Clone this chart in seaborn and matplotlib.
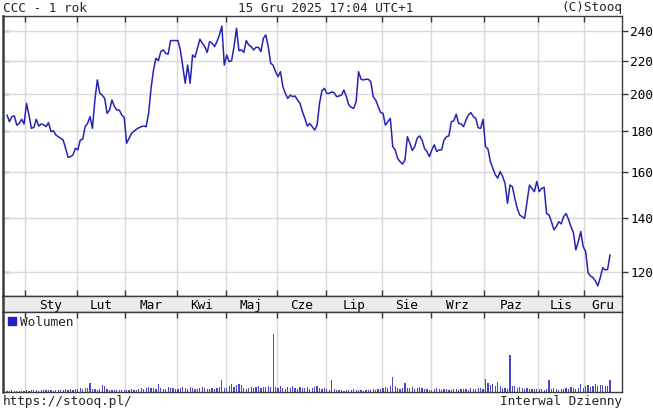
import numpy as np
import pandas as pd
import matplotlib
matplotlib.use("Agg")
import matplotlib.pyplot as plt
from matplotlib.lines import Line2D
from matplotlib.ticker import FixedLocator, NullLocator
import seaborn as sns

# Trading days shown per month (Dec 2024 ... Dec 2025)
days_per_month = [8, 21, 20, 21, 20, 21, 20, 23, 20, 22, 22, 19, 11]
month_labels = ["Sty", "Lut", "Mar", "Kwi", "Maj", "Cze", "Lip", "Sie", "Wrz", "Paz", "Lis", "Gru"]

# Daily close
close = [
    # Dec 2024
    188.5, 184.9, 187.6, 188.0, 183.1, 184.0, 186.2, 183.7,
    # Jan
    194.9, 188.5, 181.4, 181.9, 186.2, 182.6, 183.7, 183.3, 182.3, 184.4, 179.7,
    180.2, 178.0, 177.1, 176.3, 175.4, 171.3, 166.9, 167.2, 168.0, 171.3,
    # Feb
    170.5, 175.4, 175.8, 182.3, 184.0, 187.6, 181.4, 196.8, 208.5, 200.6,
    199.6, 197.7, 189.4, 191.2, 196.8, 193.1, 191.2, 191.2, 188.5, 187.2,
    # Mar
    173.8, 176.3, 178.8, 179.9, 180.9, 181.7, 182.3, 182.6, 182.3, 189.4, 203.5,
    214.5, 221.9, 220.4, 226.2, 227.3, 225.1, 224.6, 233.5, 233.5, 233.5,
    # Apr
    233.5, 227.3, 216.6, 206.5, 217.6, 206.5, 224.0, 222.5, 228.4, 234.4,
    231.7, 229.5, 225.7, 232.8, 231.7, 229.5, 232.8, 237.3, 243.5, 217.6,
    # May
    224.0, 219.7, 220.4, 229.5, 241.9, 226.8, 227.3, 225.7, 233.5, 230.6, 229.5,
    227.3, 229.0, 229.0, 226.2, 235.0, 237.3, 229.5, 218.7, 217.6, 213.5,
    # Jun
    210.5, 213.5, 204.5, 200.6, 197.7, 199.6, 198.7, 199.1, 196.8, 194.9,
    190.3, 186.7, 182.6, 184.0, 182.3, 180.5, 183.1, 194.9, 202.2, 203.5,
    # Jul
    200.6, 200.6, 201.4, 201.0, 198.7, 199.1, 199.6, 202.5, 198.7, 194.0, 192.7, 192.1,
    195.9, 213.5, 208.9, 208.5, 208.9, 208.9, 207.5, 198.7, 196.8, 193.4, 189.8,
    # Aug
    189.4, 183.1, 184.9, 186.7, 172.1, 170.5, 166.4, 164.8, 163.7, 165.6,
    177.1, 173.8, 170.2, 172.1, 176.3, 177.5, 175.4, 171.3, 169.7, 167.2,
    # Sep
    170.5, 173.0, 169.7, 170.5, 170.5, 175.4, 177.1, 177.5, 184.9, 185.4, 189.0,
    184.0, 183.7, 182.3, 185.8, 188.5, 189.8, 187.6, 186.7, 181.7, 181.4, 186.2,
    # Oct
    172.1, 170.9, 164.8, 161.7, 158.7, 157.2, 160.2, 158.0, 154.8, 146.2, 154.1,
    153.4, 148.3, 144.1, 141.4, 140.7, 140.0, 146.9, 154.1, 152.6, 151.2, 155.7,
    # Nov
    151.2, 152.6, 153.1, 142.0, 141.4, 138.7, 135.5, 136.7, 138.7, 137.8,
    140.7, 142.0, 139.6, 136.7, 134.4, 127.9, 131.0, 134.8, 129.1,
    # Dec
    127.3, 119.8, 118.6, 118.1, 117.0, 115.3, 118.1, 121.5, 120.7, 120.9, 126.1,
]

# Daily volume (relative units)
volume = [
    15, 10, 20, 12, 10, 8, 15, 10,
    20, 15, 25, 18, 20, 15, 22, 20, 18, 25, 20, 15, 22, 18, 20, 25, 30, 22, 28, 25, 35,
    35, 40, 30, 45, 40, 90, 35, 30, 25, 30, 70, 60, 35, 25, 20, 20, 18, 22, 20, 25,
    25, 20, 30, 22, 25, 30, 45, 35, 40, 50, 40, 45, 35, 80, 45, 30, 35, 50, 40, 45, 35,
    30, 40, 55, 45, 35, 50, 40, 30, 35, 45, 55, 40, 30, 35, 40, 30, 45, 50, 120, 40,
    45, 60, 80, 55, 75, 85, 70, 40, 35, 45, 55, 40, 50, 60, 45, 55, 50, 60, 55, 580, 55,
    45, 60, 40, 35, 55, 45, 60, 40, 35, 50, 45, 40, 55, 30, 45, 50, 60, 40, 35, 45,
    30, 25, 120, 30, 20, 18, 22, 15, 20, 18, 25, 30, 20, 18, 22, 15, 25, 20, 18, 30, 25, 35, 30,
    40, 55, 45, 60, 150, 60, 45, 35, 40, 90, 45, 40, 50, 35, 45, 50, 40, 30, 35, 25,
    20, 35, 40, 30, 25, 35, 30, 20, 25, 30, 35, 25, 30, 35, 30, 25, 40, 35, 30, 45, 40, 35,
    130, 90, 70, 80, 65, 100, 60, 45, 40, 35, 370, 60, 65, 45, 55, 40, 30, 45, 35, 30, 35, 30,
    30, 35, 25, 30, 120, 35, 40, 30, 25, 35, 30, 40, 35, 55, 45, 30, 40, 80, 45,
    60, 70, 55, 65, 80, 60, 70, 75, 65, 60, 120,
]

price_ticks = [120, 140, 160, 180, 200, 220, 240]

df = pd.DataFrame({"day": np.arange(len(close)), "close": close, "volume": volume})

sns.set_theme(style="white")
plt.rcParams["font.family"] = ["DejaVu Sans Mono", "DejaVu Sans"]
plt.rcParams["font.size"] = 9.2

LINE = "#2424b4"
VOL = "#4646c8"
GRID = "#d9d9d9"
FRAME = "#3a3a3a"

# month boundaries in trading-day units
bounds = np.cumsum(days_per_month)[:-1] - 0.5
xmin, xmax = -1.64, 251.9
edges = list(bounds) + [xmax]
centers = [(edges[i] + edges[i + 1]) / 2 for i in range(len(month_labels))]

fig = plt.figure(figsize=(6.53, 4.13), dpi=100)
fig.patch.set_facecolor("white")
W, H = 653, 413
ax = fig.add_axes([3 / W, 117 / H, 619 / W, 280 / H])
band = fig.add_axes([3 / W, 101 / H, 619 / W, 16 / H])
axv = fig.add_axes([3 / W, 21 / H, 619 / W, 80 / H])

# price panel
sns.lineplot(data=df, x="day", y="close", ax=ax, color=LINE, linewidth=1.1)
ax.set_yscale("log")
ax.set_ylim(112.0, 250.6)
ax.set_xlim(xmin, xmax)
ax.yaxis.set_major_locator(FixedLocator(price_ticks))
ax.yaxis.set_minor_locator(NullLocator())
ax.set_yticklabels([str(t) for t in price_ticks])
ax.yaxis.tick_right()
ax.tick_params(axis="y", direction="out", length=4, width=1, color=FRAME,
               labelsize=9.2, pad=2, labelcolor="black")
ax.set_xticks(bounds)
ax.tick_params(axis="x", direction="in", top=True, bottom=True, labelbottom=False,
               length=4, width=1, color=FRAME)
ax.grid(True, color=GRID, linewidth=1)
ax.set_xlabel("")
ax.set_ylabel("")
sec = ax.secondary_yaxis("left")
sec.set_yticks(price_ticks)
sec.tick_params(direction="in", length=4, width=1, color=FRAME, labelleft=False)
sec.spines["left"].set_visible(False)

# month band
band.set_facecolor("#ececec")
band.set_xlim(xmin, xmax)
band.set_ylim(0, 1)
band.set_xticks([])
band.set_yticks([])
for c, lab in zip(centers, month_labels):
    band.text(c, 0.42, lab, ha="center", va="center", fontsize=9.2, color="black")

# volume panel
sns.barplot(data=df, x="day", y="volume", ax=axv, color=VOL, width=0.5,
            saturation=1, linewidth=0, native_scale=True)
for p in axv.patches:
    p.set_antialiased(False)
axv.set_xlim(xmin, xmax)
axv.set_ylim(0, 800)
axv.set_xticks(bounds)
axv.tick_params(axis="x", direction="in", top=True, bottom=False, labelbottom=False,
                length=4, width=1, color=FRAME)
axv.set_ylabel("")
axv.set_yticks([])
axv.grid(True, axis="x", color=GRID, linewidth=1)
axv.set_axisbelow(True)
axv.set_xlabel("")
axv.legend(handles=[Line2D([], [], marker="s", linestyle="none", color="#2020c0", markersize=6)],
           labels=["Wolumen"], loc="upper left", frameon=False, handlelength=0.8,
           handletextpad=0.2, borderaxespad=0.1, borderpad=0.2, fontsize=9.2)

for a in (ax, band, axv):
    for s in a.spines.values():
        s.set_color(FRAME)
        s.set_linewidth(1.0)
        s.set_visible(True)
    a.spines["left"].set_linewidth(1.8)

# header and footer
fig.text(3 / W, 1 - 8 / H, "CCC - 1 rok", ha="left", va="center")
fig.text(326 / W, 1 - 8 / H, "15 Gru 2025 17:04 UTC+1", ha="center", va="center")
fig.text(622 / W, 1 - 8 / H, "(C)Stooq", ha="right", va="center")
fig.text(3 / W, 11 / H, "https://stooq.pl/", ha="left", va="center")
fig.text(622 / W, 11 / H, "Interwal Dzienny", ha="right", va="center")

fig.savefig("out.png", dpi=100, facecolor="white")
